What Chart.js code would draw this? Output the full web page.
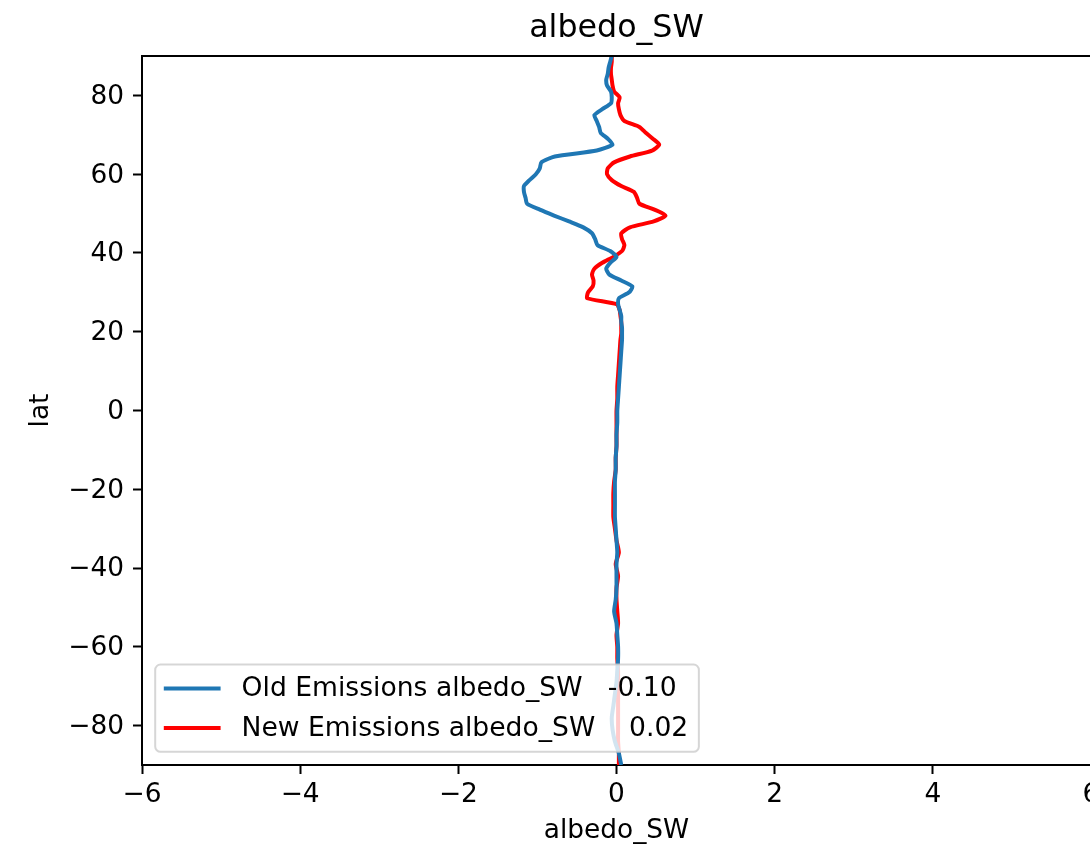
<!DOCTYPE html>
<html>
<head>
<meta charset="utf-8">
<title>albedo_SW</title>
<script src="https://cdn.jsdelivr.net/npm/chart.js@4.4.1/dist/chart.umd.min.js"></script>
<style>
  html, body { margin: 0; padding: 0; background: #fff; overflow: hidden; }
  #wrap { width: 1233px; height: 847px; }
</style>
</head>
<body>
<div id="wrap"><canvas id="profile" width="1233" height="847"></canvas></div>
<script>
// zonal mean profiles, one value per latitude
const lat = [
  90, 88.5, 87, 85.5, 84, 82.5, 81, 79.5, 78, 76.5, 75, 73.5, 72, 70.5, 69, 67.5,
  66, 64.5, 63, 61.5, 60, 58.5, 57, 55.5, 54, 52.5, 51, 49.5, 48, 46.5, 45, 43.5,
  42, 40.5, 39, 37.5, 36, 34.5, 33, 31.5, 30, 28.5, 27, 25.5, 24, 22.5, 21, 19.5, 18,
  15, 12, 9, 6, 3, 0, -3, -6, -9, -12, -15, -18, -21, -24, -27, -30, -33, -36,
  -39, -42, -45, -48, -51, -54, -57, -60, -63, -66, -69, -72, -75, -78, -81, -84, -87, -90
];
const oldEmissions = [
  -0.06, -0.08, -0.10, -0.11, -0.13, -0.12, -0.07, -0.06, -0.07, -0.18, -0.28, -0.25, -0.22, -0.20, -0.11, -0.05,
  -0.25, -0.78, -0.95, -0.97, -1.02, -1.10, -1.17, -1.17, -1.15, -1.13, -0.97, -0.79, -0.60, -0.42, -0.31, -0.27,
  -0.24, -0.08, 0.00, -0.08, -0.13, -0.09, 0.06, 0.20, 0.16, 0.03, 0.02, 0.04, 0.06, 0.06, 0.07, 0.07, 0.07,
  0.06, 0.05, 0.04, 0.03, 0.02, 0.01, 0.01, 0.00, 0.00, -0.01, -0.01, -0.02, -0.02, -0.02, -0.02, -0.01, 0.00, 0.01,
  0.00, 0.00, 0.00, -0.01, -0.03, 0.00, 0.01, 0.02, 0.02, 0.01, 0.00, -0.02, -0.04, -0.06, -0.05, -0.02, 0.03, 0.06
];
const newEmissions = [
  -0.06, -0.06, -0.07, -0.07, -0.06, -0.05, -0.03, 0.04, 0.02, 0.03, 0.05, 0.10, 0.29, 0.37, 0.46, 0.54,
  0.45, 0.17, -0.03, -0.11, -0.12, -0.06, 0.06, 0.22, 0.26, 0.29, 0.48, 0.62, 0.47, 0.17, 0.06, 0.07,
  0.10, 0.07, -0.04, -0.18, -0.28, -0.31, -0.29, -0.30, -0.36, -0.37, 0.00, 0.04, 0.05, 0.06, 0.06, 0.06, 0.05,
  0.04, 0.03, 0.02, 0.01, 0.01, 0.00, 0.00, 0.00, 0.00, -0.01, -0.01, -0.03, -0.04, -0.04, -0.04, -0.02, 0.00, 0.03,
  -0.01, 0.02, 0.00, 0.00, 0.01, 0.02, 0.00, 0.01, 0.01, 0.02, 0.02, 0.02, 0.02, 0.02, 0.02, 0.02, 0.03, 0.03
];
const seriesNames = ['Old Emissions albedo_SW', 'New Emissions albedo_SW'];
const seriesMeans = [-0.10, 0.02];
const seriesColors = ['#1f77b4', '#ff0000'];
const xTicks = [-6, -4, -2, 0, 2, 4, 6];
const yTicks = [-80, -60, -40, -20, 0, 20, 40, 60, 80];

const FONT = 'DejaVu Sans';
const fs = 26.4;

function tickText(v) {
  return v < 0 ? '\u2212' + Math.abs(v) : String(v);
}

function legendText(i) {
  const m = seriesMeans[i];
  return seriesNames[i] + '   ' + (m < 0 ? '' : ' ') + m.toFixed(2);
}

// top spine, chart.js only draws borders for the axes it has
const frame = {
  id: 'frame',
  afterDraw(chart) {
    const {ctx, chartArea: a} = chart;
    ctx.save();
    ctx.strokeStyle = '#000';
    ctx.lineWidth = 2;
    ctx.beginPath();
    ctx.moveTo(a.left - 1, a.top);
    ctx.lineTo(a.right + 1, a.top);
    ctx.stroke();
    ctx.restore();
  }
};

// legend box in the lower left corner of the axes
const boxLegend = {
  id: 'boxLegend',
  afterDraw(chart) {
    const {ctx, chartArea: a} = chart;
    const sets = chart.data.datasets;
    const lfs = 26.6;
    ctx.save();
    ctx.font = lfs + 'px "' + FONT + '"';
    const textW = Math.max(...sets.map(d => ctx.measureText(d.label).width));
    const pad = 10.6, handle = 52.8, gap = 23, rowH = 39.5;
    const x0 = a.left + 13.2;
    const h = 2 * pad + sets.length * 26.4 + (sets.length - 1) * 13.2;
    const y0 = a.bottom - 13.2 - h;
    const w = pad + handle + gap + textW + pad;

    ctx.beginPath();
    ctx.roundRect(x0, y0, w, h, 5.3);
    ctx.fillStyle = 'rgba(255,255,255,0.8)';
    ctx.fill();
    ctx.lineWidth = 2;
    ctx.strokeStyle = 'rgba(204,204,204,0.8)';
    ctx.stroke();

    ctx.textBaseline = 'middle';
    ctx.textAlign = 'left';
    sets.forEach((d, i) => {
      const cy = y0 + pad + 13.2 + i * rowH;
      ctx.beginPath();
      ctx.moveTo(x0 + pad, cy);
      ctx.lineTo(x0 + pad + handle, cy);
      ctx.lineCap = 'square';
      ctx.lineWidth = 4;
      ctx.strokeStyle = d.borderColor;
      ctx.stroke();
      ctx.fillStyle = '#000';
      ctx.fillText(d.label, x0 + pad + handle + gap, cy + 1);
    });
    ctx.restore();
  }
};

const datasets = [oldEmissions, newEmissions].map((vals, i) => ({
  label: legendText(i),
  data: lat.map((y, k) => ({x: vals[k], y: y})),
  showLine: true,
  borderColor: seriesColors[i],
  backgroundColor: seriesColors[i],
  borderWidth: 4,
  pointRadius: 0,
  tension: 0.2,
  fill: false
}));

const axisGrid = {
  drawOnChartArea: false,
  drawTicks: true,
  tickLength: 9,
  tickWidth: 2,
  tickColor: '#000'
};

new Chart(document.getElementById('profile'), {
  type: 'scatter',
  data: { datasets },
  plugins: [frame, boxLegend],
  options: {
    responsive: false,
    animation: false,
    devicePixelRatio: 1,
    events: [],
    layout: { padding: 0 },
    plugins: {
      legend: { display: false },
      tooltip: { enabled: false },
      title: {
        display: true,
        text: 'albedo_SW',
        color: '#000',
        font: { family: FONT, size: 31.7, weight: 'normal' },
        padding: { top: 9.5, bottom: 8.5 }
      }
    },
    scales: {
      x: {
        type: 'linear',
        position: 'bottom',
        min: -6,
        max: 6,
        afterBuildTicks: s => { s.ticks = xTicks.map(v => ({value: v})); },
        afterFit: s => { s.height = 82; },
        ticks: {
          color: '#000',
          font: { family: FONT, size: fs },
          padding: 5,
          maxRotation: 0,
          autoSkip: false,
          callback: v => tickText(v)
        },
        grid: axisGrid,
        border: { display: true, color: '#000', width: 2 },
        title: {
          display: true,
          text: 'albedo_SW',
          color: '#000',
          font: { family: FONT, size: fs },
          padding: { top: 0, bottom: 0 }
        }
      },
      y: {
        type: 'linear',
        position: 'left',
        min: -90,
        max: 90,
        afterBuildTicks: s => { s.ticks = yTicks.map(v => ({value: v})); },
        afterFit: s => { s.width = 142; },
        ticks: {
          color: '#000',
          font: { family: FONT, size: fs },
          padding: 9,
          labelOffset: 1.5,
          autoSkip: false,
          callback: v => tickText(v)
        },
        grid: axisGrid,
        border: { display: true, color: '#000', width: 2 },
        title: {
          display: true,
          text: 'lat',
          color: '#000',
          font: { family: FONT, size: fs },
          padding: { top: 25, bottom: 0 }
        }
      },
      // right spine, kept as an empty axis so the plot area ends where the figure is cut
      yRight: {
        type: 'linear',
        position: 'right',
        min: -90,
        max: 90,
        afterFit: s => { s.width = 142; },
        ticks: { display: false },
        grid: { drawOnChartArea: false, drawTicks: false },
        border: { display: true, color: '#000', width: 2 }
      }
    }
  }
});
</script>
</body>
</html>
